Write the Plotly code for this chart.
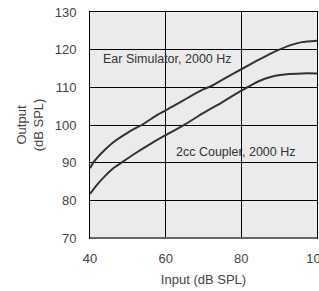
import plotly.graph_objects as go

# Data
input_db = [40, 41, 43, 46, 50, 54, 58, 62, 66, 70, 72, 76, 80, 84, 88, 90.5, 93, 96, 100]
ear_sim = [88.5, 90.2, 92.5, 95.3, 98.0, 100.2, 102.8, 105.0, 107.3, 109.5, 110.3, 112.6,
           114.8, 117.0, 119.1, 120.2, 121.2, 122.0, 122.4]

input_db2 = [40, 42, 44, 46, 48.3, 52, 56, 60, 65, 70, 75, 80, 83, 86, 89, 92, 96, 100]
coupler = [81.7, 84.3, 86.5, 88.4, 90.0, 92.5, 95.0, 97.3, 100.1, 103.2, 106.1, 109.1,
           110.8, 112.2, 113.1, 113.5, 113.7, 113.7]

x_ticks = [40, 60, 80, 100]
y_ticks = [70, 80, 90, 100, 110, 120, 130]
label_ear = "Ear Simulator, 2000 Hz"
label_cpl = "2cc Coupler, 2000 Hz"

FONT = "Liberation Sans, Arial, Helvetica, sans-serif"
LINE_COLOR = "#333333"

fig = go.Figure()
fig.add_trace(go.Scatter(x=input_db, y=ear_sim, mode="lines",
                         line=dict(color=LINE_COLOR, width=2, shape="spline", smoothing=0.6),
                         showlegend=False, hoverinfo="skip", cliponaxis=True))
fig.add_trace(go.Scatter(x=input_db2, y=coupler, mode="lines",
                         line=dict(color=LINE_COLOR, width=2, shape="spline", smoothing=0.6),
                         showlegend=False, hoverinfo="skip", cliponaxis=True))

fig.add_annotation(x=43.0, y=117.5, xref="x", yref="y", text=label_ear, showarrow=False,
                   xanchor="left", yanchor="middle",
                   font=dict(family=FONT, size=12.5, color="#333333"))
fig.add_annotation(x=62.3, y=92.8, xref="x", yref="y", text=label_cpl, showarrow=False,
                   xanchor="left", yanchor="middle",
                   font=dict(family=FONT, size=12.5, color="#333333"))

# Bottom axis line (thicker gray)
fig.add_shape(type="line", xref="paper", yref="paper", x0=0, x1=1, y0=0, y1=0,
              line=dict(color="#666666", width=2))

fig.update_layout(
    width=319, height=291,
    margin=dict(l=90, r=2, t=12, b=53, autoexpand=False),
    paper_bgcolor="white",
    plot_bgcolor="#ebebeb",
    font=dict(family=FONT, size=13, color="#444444"),
    xaxis=dict(range=[40, 100], tickvals=x_ticks, ticktext=[str(v) for v in x_ticks],
               showgrid=True, gridcolor="black", gridwidth=1, automargin=False,
               zeroline=False, showline=True, linecolor="black", linewidth=1, mirror=True,
               ticks="outside", ticklen=8, tickcolor="rgba(0,0,0,0)",
               ticklabeloverflow="allow",
               tickfont=dict(size=13, color="#444444"),
               title=dict(text="Input (dB SPL)", font=dict(size=13, color="#444444"), standoff=10),
               fixedrange=True),
    yaxis=dict(range=[70, 130], tickvals=y_ticks, ticktext=[str(v) for v in y_ticks],
               showgrid=True, gridcolor="black", gridwidth=1, automargin=False,
               zeroline=False, showline=True, linecolor="black", linewidth=1, mirror=True,
               ticks="outside", ticklen=10, tickcolor="rgba(0,0,0,0)",
               tickfont=dict(size=13, color="#444444"),
               title=dict(text="Output<br>(dB SPL)", font=dict(size=13, color="#444444"), standoff=8),
               fixedrange=True),
)

fig.write_html("out.html", config={"displayModeBar": False},
               post_script="document.body.style.margin='0';document.body.style.padding='0';")
